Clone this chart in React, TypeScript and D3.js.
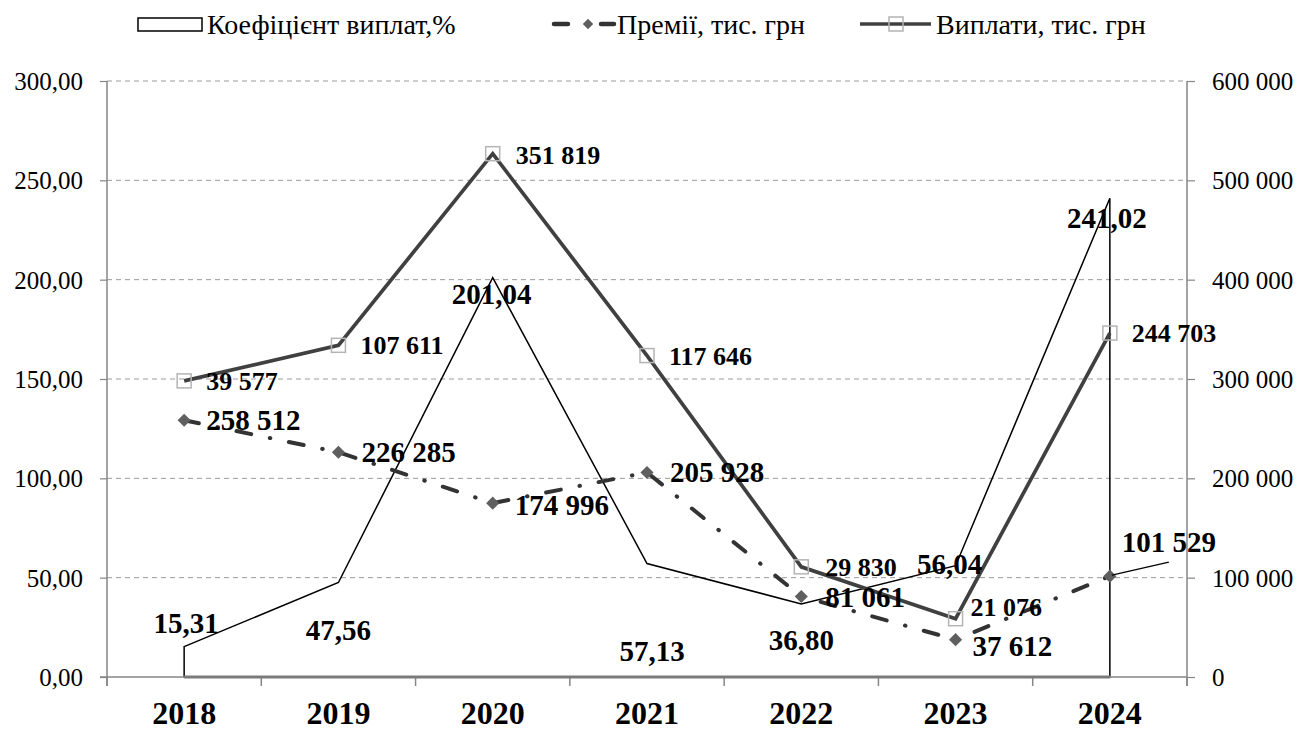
import React, { useEffect, useRef } from 'react';
import * as d3 from 'd3';

// --- DATA ---
const years = ['2018', '2019', '2020', '2021', '2022', '2023', '2024'];
const coefficient = [15.31, 47.56, 201.04, 57.13, 36.8, 56.04, 241.02]; // Коефіцієнт виплат, %
const premiums = [258512, 226285, 174996, 205928, 81061, 37612, 101529]; // Премії, тис. грн
const payouts = [39577, 107611, 351819, 117646, 29830, 21076, 244703]; // Виплати, тис. грн (stacked on premiums)
const leftTicks = [0, 50, 100, 150, 200, 250, 300];
const rightTicks = [0, 100000, 200000, 300000, 400000, 500000, 600000];

// label nudges (px), hand-placed like in the source chart
const coefLabelOffset: [number, number][] = [[2, -14], [0, 57], [-1, 26], [5, 97], [0, 46], [-6, 8], [-3, 30]];
const premLabelOffset: [number, number][] = [[22, 10], [23, 10], [22, 12], [23, 10], [24, 11], [17, 16], [12, -24]];
const payLabelOffset: [number, number][] = [[22, 9], [22, 9], [23, 10], [22, 9], [24, 9], [15, -3], [22, 9]];

const W = 1299;
const H = 730;
const FONT = '"Liberation Serif", "Times New Roman", serif';

const App: React.FC = () => {
  const svgRef = useRef<SVGSVGElement>(null);

  useEffect(() => {
    document.body.style.margin = '0';
    if (!svgRef.current) return;
    const svg = d3.select(svgRef.current);
    svg.selectAll('*').remove();

    const plot = { left: 107, right: 1187, top: 81, bottom: 677 };

    const x = d3.scaleBand().domain(years).range([plot.left, plot.right]);
    const cx = (i: number) => (x(years[i]) || 0) + x.bandwidth() / 2;
    const yL = d3.scaleLinear().domain([0, 300]).range([plot.bottom, plot.top]);
    const yR = d3.scaleLinear().domain([0, 600000]).range([plot.bottom, plot.top]);

    const locale = d3.formatLocale({ decimal: ',', thousands: ' ', grouping: [3], currency: ['', ''] });
    const fmtThousands = locale.format(',.0f');
    const fmtPct = locale.format('.2f');

    const rows = years.map((yr, i) => ({ year: yr, premii: premiums[i], vyplaty: payouts[i] }));
    const stacked = d3.stack<any>().keys(['premii', 'vyplaty'])(rows);
    const premTop = stacked[0].map(d => d[1]);
    const payTop = stacked[1].map(d => d[1]);

    // --- GRID ---
    svg.append('g')
      .selectAll('line')
      .data(leftTicks.filter(t => t > 0))
      .enter()
      .append('line')
      .attr('x1', plot.left).attr('x2', plot.right)
      .attr('y1', d => yL(d)).attr('y2', d => yL(d))
      .attr('stroke', '#9a9a9a').attr('stroke-width', 1)
      .attr('stroke-dasharray', '5,4');

    // --- AXES ---
    const axisColor = '#868686';
    const leftAxis = svg.append('g').attr('transform', `translate(${plot.left},0)`)
      .call(d3.axisLeft(yL).tickValues(leftTicks).tickSize(7).tickPadding(17).tickFormat(d => fmtPct(d as number)));
    const rightAxis = svg.append('g').attr('transform', `translate(${plot.right},0)`)
      .call(d3.axisRight(yR).tickValues(rightTicks).tickSize(8).tickPadding(17).tickFormat(d => fmtThousands(d as number)));
    [leftAxis, rightAxis].forEach(a => {
      a.select('.domain').remove();
      a.selectAll('line').attr('stroke', axisColor).attr('stroke-width', 1.2);
      a.selectAll('text').attr('font-family', FONT).attr('font-size', 25).attr('fill', '#000').attr('dy', '0.34em');
    });
    // vertical axis lines (extend down to category tick length)
    [plot.left, plot.right].forEach(px => {
      svg.append('line')
        .attr('x1', px).attr('x2', px).attr('y1', plot.top).attr('y2', plot.bottom + 9)
        .attr('stroke', axisColor).attr('stroke-width', 1.5);
    });

    // category ticks at band boundaries
    const bounds = years.map(yr => x(yr) || 0).concat([plot.right]);
    svg.append('g')
      .selectAll('line')
      .data(bounds)
      .enter()
      .append('line')
      .attr('x1', d => d).attr('x2', d => d)
      .attr('y1', plot.bottom).attr('y2', plot.bottom + 9)
      .attr('stroke', axisColor).attr('stroke-width', 1.5);

    // --- COEFFICIENT AREA (outline only) ---
    const area = d3.area<number>()
      .x((_, i) => cx(i))
      .y0(yL(0))
      .y1(d => yL(d));
    svg.append('path')
      .datum(coefficient)
      .attr('d', area)
      .attr('fill', 'none')
      .attr('stroke', '#000')
      .attr('stroke-width', 1.5);

    // bottom axis line
    svg.append('line')
      .attr('x1', plot.left - 7).attr('x2', plot.right)
      .attr('y1', plot.bottom).attr('y2', plot.bottom)
      .attr('stroke', axisColor).attr('stroke-width', 1.5);
    svg.append('line')
      .attr('x1', cx(0)).attr('x2', cx(years.length - 1))
      .attr('y1', plot.bottom).attr('y2', plot.bottom)
      .attr('stroke', '#7a7a7a').attr('stroke-width', 3);

    // --- PREMIUMS LINE ---
    const line = d3.line<number>().x((_, i) => cx(i)).y(d => yR(d));
    svg.append('path')
      .datum(premTop)
      .attr('d', line)
      .attr('fill', 'none')
      .attr('stroke', '#333')
      .attr('stroke-width', 4)
      .attr('stroke-linecap', 'round')
      .attr('stroke-dasharray', '15,19,0.5,19');

    // --- PAYOUTS LINE (stacked) ---
    svg.append('path')
      .datum(payTop)
      .attr('d', line)
      .attr('fill', 'none')
      .attr('stroke', '#404040')
      .attr('stroke-width', 3.7)
      .attr('stroke-linejoin', 'miter');

    // markers
    svg.append('g')
      .selectAll('path')
      .data(premTop)
      .enter()
      .append('path')
      .attr('d', d3.symbol().type(d3.symbolDiamond2).size(110))
      .attr('transform', (d, i) => `translate(${cx(i)},${yR(d)})`)
      .attr('fill', '#5f5f5f');

    svg.append('g')
      .selectAll('rect')
      .data(payTop)
      .enter()
      .append('rect')
      .attr('x', (d, i) => cx(i) - 7)
      .attr('y', d => yR(d) - 7)
      .attr('width', 14).attr('height', 14)
      .attr('fill', 'none')
      .attr('stroke', '#b4b4b4')
      .attr('stroke-width', 1.5);

    // --- DATA LABELS ---
    const labelStyle = (size: number) => (sel: any) => sel
      .attr('font-family', FONT).attr('font-size', size).attr('font-weight', 'bold').attr('fill', '#000');

    svg.append('g').selectAll('text')
      .data(coefficient)
      .enter()
      .append('text')
      .attr('x', (d, i) => cx(i) + coefLabelOffset[i][0])
      .attr('y', (d, i) => yL(d) + coefLabelOffset[i][1])
      .attr('text-anchor', 'middle')
      .call(labelStyle(29))
      .text(d => fmtPct(d));

    svg.append('g').selectAll('text')
      .data(premiums)
      .enter()
      .append('text')
      .attr('x', (d, i) => cx(i) + premLabelOffset[i][0])
      .attr('y', (d, i) => yR(premTop[i]) + premLabelOffset[i][1])
      .call(labelStyle(29))
      .text(d => fmtThousands(d));

    svg.append('g').selectAll('text')
      .data(payouts)
      .enter()
      .append('text')
      .attr('x', (d, i) => cx(i) + payLabelOffset[i][0])
      .attr('y', (d, i) => yR(payTop[i]) + payLabelOffset[i][1])
      .call(labelStyle(26))
      .text(d => fmtThousands(d));

    // leader line for the last premium label
    const li = years.length - 1;
    svg.append('line')
      .attr('x1', cx(li) + 2).attr('y1', yR(premTop[li]) - 1)
      .attr('x2', cx(li) + 59).attr('y2', yR(premTop[li]) - 14)
      .attr('stroke', '#000').attr('stroke-width', 1.2);

    // --- CATEGORY LABELS ---
    svg.append('g').selectAll('text')
      .data(years)
      .enter()
      .append('text')
      .attr('x', (d, i) => cx(i))
      .attr('y', 724)
      .attr('text-anchor', 'middle')
      .attr('font-family', FONT).attr('font-size', 32).attr('font-weight', 'bold')
      .text(d => d);

    // --- LEGEND ---
    const lg = svg.append('g').attr('font-family', FONT).attr('font-size', 28);
    const legendY = 24;

    lg.append('rect').attr('x', 138).attr('y', 18).attr('width', 64).attr('height', 13)
      .attr('fill', '#fff').attr('stroke', '#000').attr('stroke-width', 1.5);
    lg.append('text').attr('x', 207).attr('y', 34).text('Коефіцієнт виплат,%');

    lg.append('line').attr('x1', 554).attr('x2', 568).attr('y1', legendY).attr('y2', legendY)
      .attr('stroke', '#333').attr('stroke-width', 4.5).attr('stroke-linecap', 'round');
    lg.append('path').attr('d', d3.symbol().type(d3.symbolDiamond2).size(70))
      .attr('transform', `translate(588,${legendY})`).attr('fill', '#5f5f5f');
    lg.append('line').attr('x1', 601).attr('x2', 614).attr('y1', legendY).attr('y2', legendY)
      .attr('stroke', '#333').attr('stroke-width', 4.5).attr('stroke-linecap', 'round');
    lg.append('text').attr('x', 617).attr('y', 34).text('Премії, тис. грн');

    lg.append('line').attr('x1', 860).attr('x2', 931).attr('y1', legendY).attr('y2', legendY)
      .attr('stroke', '#404040').attr('stroke-width', 3.5);
    lg.append('rect').attr('x', 889).attr('y', legendY - 7).attr('width', 14).attr('height', 14)
      .attr('fill', 'none').attr('stroke', '#b4b4b4').attr('stroke-width', 1.5);
    lg.append('text').attr('x', 936).attr('y', 34).text('Виплати, тис. грн');
  }, []);

  return (
    <svg ref={svgRef} width={W} height={H} style={{ display: 'block', background: '#fff' }} />
  );
};

export default App;
